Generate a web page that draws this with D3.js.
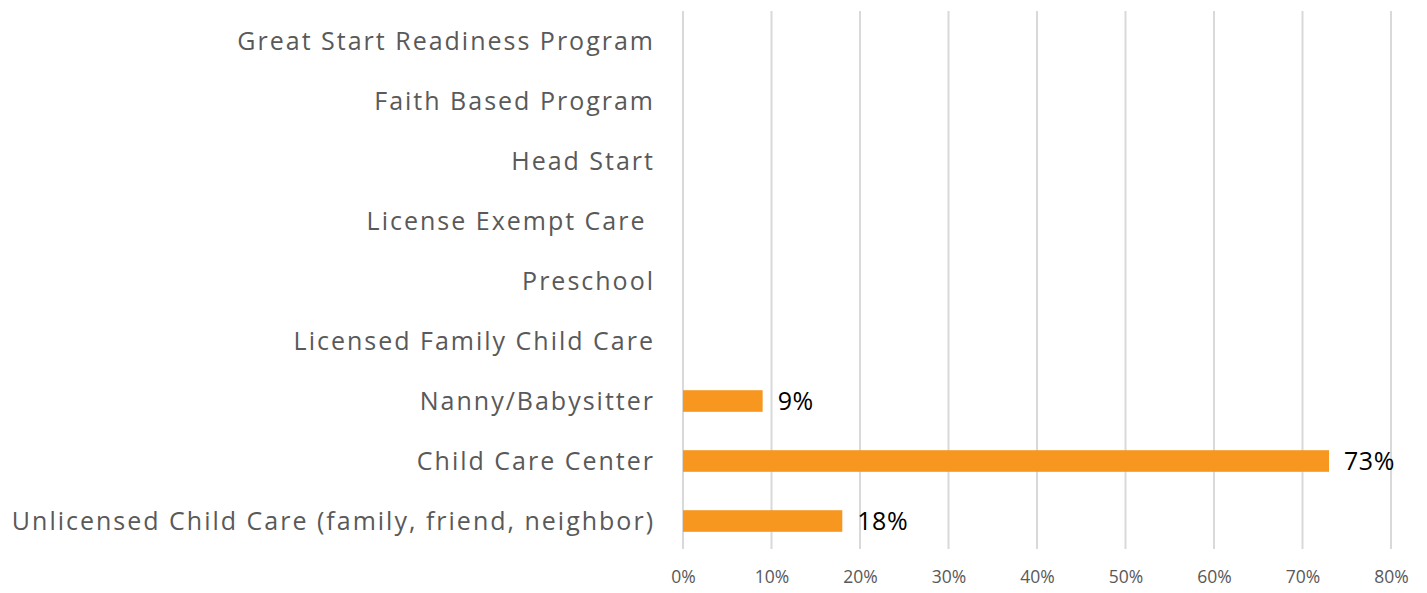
<!DOCTYPE html>
<html>
<head>
<meta charset="utf-8">
<script src="https://cdn.jsdelivr.net/npm/d3@7"></script>
<style>
  body { margin: 0; background: #fff; }
  .cat { font-family: "Open Sans", sans-serif; fill: #595959; letter-spacing: 2px; }
  .val { font-family: "Open Sans", sans-serif; fill: #000; letter-spacing: 0.5px; }
  .tick text { font-family: "Open Sans", sans-serif; fill: #595959; }
</style>
</head>
<body>
<script>
// categories top to bottom
var categories = [
  "Great Start Readiness Program",
  "Faith Based Program",
  "Head Start",
  "License Exempt Care ",
  "Preschool",
  "Licensed Family Child Care",
  "Nanny/Babysitter",
  "Child Care Center",
  "Unlicensed Child Care (family, friend, neighbor)"
];
// share, null = no bar
var shares = [null, null, null, null, null, null, 0.09, 0.73, 0.18];
var ticks = [0, 0.1, 0.2, 0.3, 0.4, 0.5, 0.6, 0.7, 0.8];

var width = 1427,
    height = 593,
    margin = {top: 11, right: 36, bottom: 42, left: 683};

var data = categories.map(function(c, i) { return {name: c, value: shares[i]}; });

var svg = d3.select("body").append("svg")
    .attr("width", width)
    .attr("height", height);

var xScale = d3.scaleLinear()
    .domain([0, 0.8])
    .range([margin.left, width - margin.right]);

var yScale = d3.scaleBand()
    .domain(categories)
    .range([margin.top, height - margin.bottom])
    .paddingInner(0.64)
    .paddingOuter(0.32);

// gridlines
svg.append("g")
    .selectAll("line")
    .data(ticks)
    .enter()
    .append("line")
    .attr("x1", function(d) { return xScale(d); })
    .attr("x2", function(d) { return xScale(d); })
    .attr("y1", margin.top)
    .attr("y2", height - margin.bottom - 2)
    .attr("stroke", "#d9d9d9")
    .attr("stroke-width", 2);

// x axis labels
var xAxis = svg.append("g")
    .attr("transform", "translate(0," + (height - margin.bottom + 6) + ")")
    .call(d3.axisBottom(xScale).tickValues(ticks).tickFormat(d3.format(".0%")).tickSize(0).tickPadding(14));
xAxis.select(".domain").remove();
xAxis.selectAll("text").style("font-size", "17.5px");

// category labels
svg.append("g")
    .selectAll("text")
    .data(data)
    .enter()
    .append("text")
    .attr("class", "cat")
    .attr("x", margin.left - 28)
    .attr("y", function(d) { return yScale(d.name) + yScale.bandwidth() / 2; })
    .attr("dy", "0.35em")
    .attr("text-anchor", "end")
    .style("font-size", "25px")
    .style("white-space", "pre")
    .text(function(d) { return d.name; });

var withBars = data.filter(function(d) { return d.value != null; });

svg.append("g")
    .selectAll("rect")
    .data(withBars)
    .enter()
    .append("rect")
    .attr("x", xScale(0))
    .attr("y", function(d) { return yScale(d.name); })
    .attr("width", function(d) { return xScale(d.value) - xScale(0); })
    .attr("height", yScale.bandwidth())
    .attr("fill", "#f7971f");

svg.append("g")
    .selectAll("text")
    .data(withBars)
    .enter()
    .append("text")
    .attr("class", "val")
    .attr("x", function(d) { return xScale(d.value) + 15; })
    .attr("y", function(d) { return yScale(d.name) + yScale.bandwidth() / 2; })
    .attr("dy", "0.37em")
    .style("font-size", "25px")
    .text(function(d) { return Math.round(d.value * 100) + "%"; });
</script>
</body>
</html>
